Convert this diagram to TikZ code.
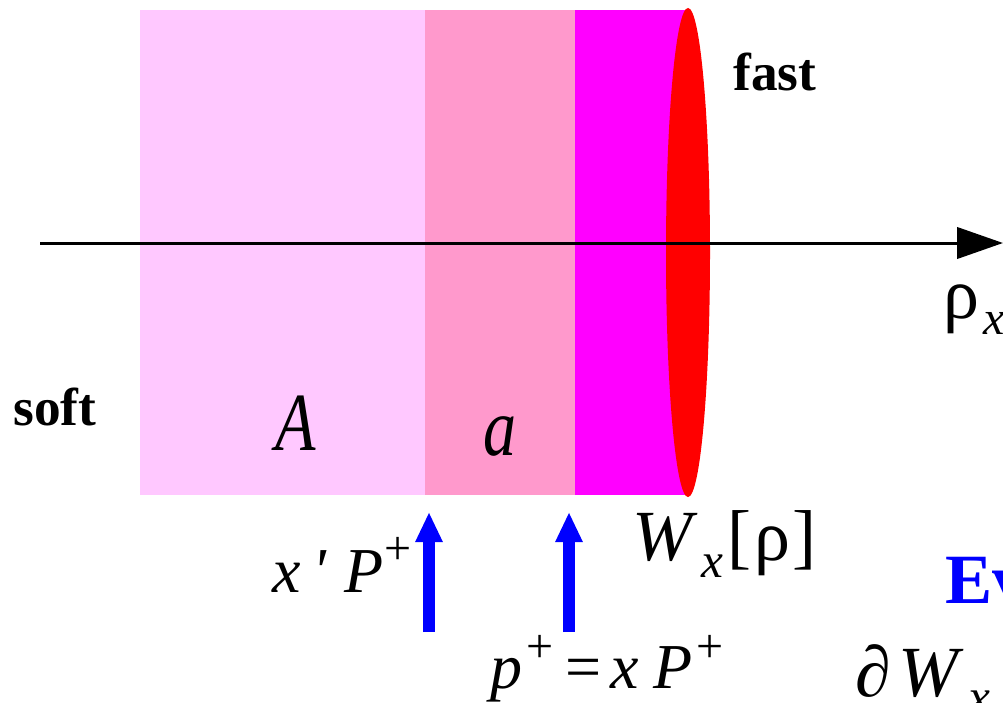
\documentclass[tikz,border=0pt]{standalone}
\usepackage{fontspec}
\setmainfont{Liberation Serif}
\newfontfamily\narrowfont[FakeStretch=0.8]{Liberation Serif}
\usetikzlibrary{arrows.meta}
\definecolor{softpink}{RGB}{255,200,255}
\definecolor{midpink}{RGB}{255,153,204}
\definecolor{fastpink}{RGB}{255,0,255}
\definecolor{evblue}{RGB}{0,0,255}
\newcommand\supplus[1]{\raisebox{#1}{\fontsize{36}{36}\selectfont +}}

\begin{document}
\begin{tikzpicture}[x=0.75pt, y=-0.75pt,
		lbl/.style={anchor=base west, inner sep=0pt, font=\fontsize{48}{48}\selectfont},
		bigword/.style={anchor=base west, inner sep=0pt, font=\fontsize{40}{40}\selectfont\bfseries},
		mom/.style={draw=evblue, line width=9pt, -{Triangle[length=22.5pt, width=19pt]}},
		axis/.style={draw=black, line width=2.25pt, -{Triangle[length=34.5pt, width=23.5pt]}}]

	\useasboundingbox (0,0) rectangle (1003,703);
	\clip (0,0) rectangle (1003,703);

	% bands: soft (A), intermediate (a), fast (W)
	\fill[softpink] (140,10) rectangle (425,495);
	\fill[midpink] (425,10) rectangle (575,495);
	\fill[fastpink] (575,10) rectangle (688,495);
	\fill[red] (688,252.5) ellipse [x radius=16.5pt, y radius=183.4pt];

	% axis
	\coordinate (ax0) at (40,243);
	\coordinate (ax1) at (1003,243);
	\draw[axis] (ax0) -- (ax1);
	\node[lbl, font=\fontsize{54}{54}\selectfont] (rho) at (943,318) {ρ\hspace{3pt}\raisebox{-12pt}{\fontsize{36}{36}\selectfont\textit{x}}};

	\node[bigword] (fast) at (733,90) {fast};
	\node[bigword] (soft) at (13,425) {soft};
	\node[lbl, font=\fontsize{62}{62}\narrowfont] (lblA) at (275,450) {\textit{A}};
	\node[lbl, font=\fontsize{62}{62}\narrowfont] (lbla) at (483,455) {\textit{a}};

	% momentum arrows
	\foreach \n/\px in {1/429, 2/569} {
			\coordinate (m\n0) at (\px,632);
			\coordinate (m\n1) at (\px,512);
			\draw[mom] (m\n0) -- (m\n1);
		}
	\node[lbl] (xP) at (272,592) {\textit{x}\hspace{9pt}\textit{\textquotesingle}\hspace{13pt}\textit{P}\hspace{1pt}\supplus{21pt}};
	\node[lbl] (pxP) at (490,688) {\textit{p}\hspace{3pt}\supplus{19.5pt}\hspace{9pt}=\hspace{7pt}\textit{x}\hspace{11pt}\textit{P}\hspace{3pt}\supplus{19.5pt}};
	\node[lbl, font=\fontsize{54}{54}\selectfont] (Wx) at (632,560) {\textit{W}\hspace{3pt}\raisebox{-13pt}{\fontsize{37}{37}\selectfont\textit{x}}\hspace{3pt}[\hspace{2pt}ρ\hspace{2pt}]};

	% cut-off labels on the right
	\node[lbl, font=\fontsize{53}{53}\selectfont\bfseries, text=evblue] (ev) at (945,603) {Ev};
	\node[lbl, font=\fontsize{54}{54}\selectfont] (dW) at (855,696) {∂\hspace{6pt}\textit{W}\hspace{3pt}\raisebox{-13pt}{\fontsize{37}{37}\selectfont\textit{x}}};
\end{tikzpicture}
\end{document}
